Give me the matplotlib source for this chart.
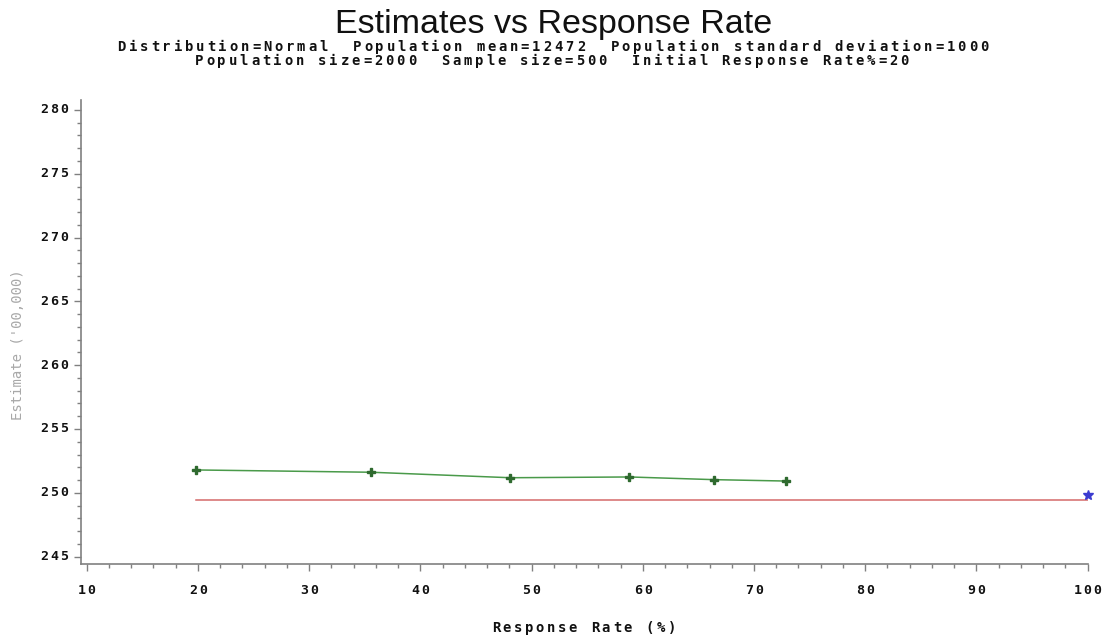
import matplotlib
matplotlib.use("Agg")
import matplotlib.pyplot as plt
import matplotlib.transforms as mtransforms
from matplotlib.ticker import MultipleLocator

# data
rate = [19.8, 35.6, 48.1, 58.8, 66.4, 72.9]
estimate = [251.79, 251.61, 251.18, 251.24, 251.03, 250.92]
true_rate = [19.8, 100]
true_total = [249.44, 249.44]
full_rate = [100]
full_estimate = [249.83]

xticks = [10, 20, 30, 40, 50, 60, 70, 80, 90, 100]
yticks = [245, 250, 255, 260, 265, 270, 275, 280]

title = "Estimates vs Response Rate"
sub1 = "Distribution=Normal  Population mean=12472  Population standard deviation=1000"
sub2 = "Population size=2000  Sample size=500  Initial Response Rate%=20"
xlab = "Response Rate (%)"
ylab = "Estimate ('00,000)"

fig = plt.figure(figsize=(11.07, 6.37), dpi=100)
ax = fig.add_axes([81/1107, 1 - 564/637, (1088 - 81)/1107, (564 - 100)/637])


# SAS style text: chars laid out on a wide fixed pitch
def sas_text(x, y, s, transform, adv=11.2, size=10, ha='center', dx=0, dy=0, color='#111111'):
    n = len(s)
    if ha == 'center':
        x0 = -(n - 1) / 2 * adv
    else:  # right
        x0 = -(n - 1) * adv - adv / 2
    for i, c in enumerate(s):
        if c == ' ':
            continue
        tr = mtransforms.offset_copy(transform, fig=fig, x=x0 + i * adv + dx, y=dy, units='dots')
        fig.text(x, y, c, transform=tr, ha='center', va='center', fontsize=size,
                 family='DejaVu Sans Mono', weight='bold', color=color)


ax.plot(true_rate, true_total, color='#d46a6a', lw=1.1, zorder=2)
ax.plot(rate, estimate, color='#4a9a4a', lw=1.1, marker='P', ms=6,
        mfc='#2f6a2f', mec='#2f6a2f', zorder=3)
ax.plot(full_rate, full_estimate, ls='none', marker='*', ms=7, color='#3b3bd0',
        zorder=3, clip_on=False)

ax.set_xlim(9.49, 100.03)
ax.set_ylim(244.42, 280.78)
ax.set_xticks(xticks)
ax.set_yticks(yticks)
ax.xaxis.set_minor_locator(MultipleLocator(2))
ax.yaxis.set_minor_locator(MultipleLocator(1))
ax.set_xticklabels([])
ax.set_yticklabels([])
ax.tick_params(which='major', length=5, width=1, color='#808080', direction='out')
ax.tick_params(which='minor', length=3, width=1, color='#808080', direction='out')
for side in ['top', 'right']:
    ax.spines[side].set_visible(False)
for side in ['left', 'bottom']:
    ax.spines[side].set_color('#808080')
    ax.spines[side].set_linewidth(1.2)

# tick labels
xtr = mtransforms.blended_transform_factory(ax.transData, fig.transFigure)
for t in xticks:
    sas_text(t, 1 - 590/637, str(t), xtr, adv=10.0, size=9.5)
ytr = mtransforms.blended_transform_factory(ax.transAxes, ax.transData)
for t in yticks:
    sas_text(0, t, str(t), ytr, adv=10.0, size=9.5, ha='right', dx=-12)

# titles and labels
fig.text(0.5, 1 - 24/637, title, ha='center', va='center', fontsize=24.5,
         family='Liberation Sans', color='#111111')
sas_text(553/1107, 1 - 47/637, sub1, fig.transFigure)
sas_text(552/1107, 1 - 61/637, sub2, fig.transFigure)
sas_text(584/1107, 1 - 628/637, xlab, fig.transFigure, adv=11.0)
fig.text(18/1107, 1 - 345/637, ylab, rotation=90, ha='center', va='center',
         fontsize=10, family='DejaVu Sans Mono', color='#a8a8a8')

fig.savefig("out.png", dpi=100, facecolor='white')
